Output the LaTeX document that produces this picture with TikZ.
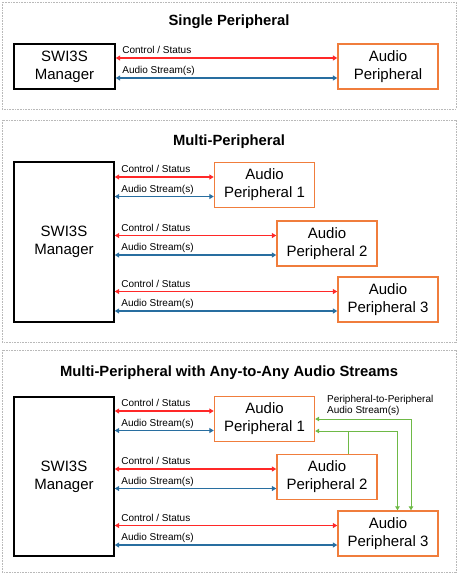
\documentclass[tikz,border=0pt]{standalone}
\usepackage{fontspec}
\setmainfont{Liberation Sans}
\usetikzlibrary{arrows.meta,positioning,calc}

\definecolor{ctrlred}{RGB}{255,40,40}
\definecolor{streamblue}{RGB}{40,110,160}
\definecolor{periorange}{RGB}{240,125,60}
\definecolor{p2pgreen}{RGB}{110,185,70}

\tikzset{
  mgrbox/.style={draw=black, line width=1.4pt, minimum width=100pt, align=center, font=\fontsize{15}{18}\selectfont},
  peribox/.style={draw=periorange, line width=1.4pt, minimum width=100pt, minimum height=45pt, align=center, font=\fontsize{15}{18}\selectfont},
  ctrlline/.style={draw=ctrlred, line width=1.3pt, {Triangle[length=4.5pt,width=5pt]}-{Triangle[length=4.5pt,width=5pt]}},
  streamline/.style={draw=streamblue, line width=1.3pt, {Triangle[length=4.5pt,width=5pt]}-{Triangle[length=4.5pt,width=5pt]}},
  p2pline/.style={draw=p2pgreen, line width=0.9pt},
  linklabel/.style={font=\fontsize{10}{11}\selectfont, anchor=base west, inner sep=0pt, xshift=6pt, yshift=4.5pt},
  paneltitle/.style={font=\bfseries\fontsize{14.8}{17}\selectfont, anchor=base},
  panelframe/.style={draw=gray!55, line width=0.8pt, dash pattern=on 1pt off 0.6pt}
}

\begin{document}
\begin{tikzpicture}[x=1pt, y=-1pt]
    \useasboundingbox (0,0) rectangle (458,573);

    % Single peripheral
    \draw[panelframe] (2,2) rectangle (456,109);
    \node[paneltitle] (atitle) at (229,25) {Single Peripheral};
    \node[mgrbox, minimum width=101pt, minimum height=45pt] (am) at (64.5,66.5) {SWI3S\\Manager};
    \node[peribox] (ap) at (388,66.5) {Audio\\Peripheral};
    \coordinate (apc) at ([yshift=8.5pt]ap.west);
    \coordinate (aps) at ([yshift=-11.5pt]ap.west);
    \draw[ctrlline] (am.east |- apc) node[linklabel] (apcl) {Control / Status} -- (apc);
    \draw[streamline] (am.east |- aps) node[linklabel] (apsl) {Audio Stream(s)} -- (aps);

    % Multi-peripheral
    \draw[panelframe] (2,120) rectangle (456,342);
    \node[paneltitle] (btitle) at (229,145.5) {Multi-Peripheral};
    \node[mgrbox, minimum height=160pt] (bm) at (64,242) {SWI3S\\Manager};
    \node[peribox] (bp1) at (264.5,185) {Audio\\Peripheral 1};
    \node[peribox] (bp2) at (327,243.5) {Audio\\Peripheral 2};
    \node[peribox] (bp3) at (388,299.5) {Audio\\Peripheral 3};
    \foreach \p in {bp1,bp2,bp3} {
        \coordinate (\p c) at ([yshift=8pt]\p.west);
        \coordinate (\p s) at ([yshift=-11.5pt]\p.west);
        \draw[ctrlline] (bm.east |- \p c) node[linklabel] (\p cl) {Control / Status} -- (\p c);
        \draw[streamline] (bm.east |- \p s) node[linklabel] (\p sl) {Audio Stream(s)} -- (\p s);
    }

    % Multi-peripheral, any-to-any
    \draw[panelframe] (2,350) rectangle (456,572);
    \node[paneltitle] (ctitle) at (229,376.5) {Multi-Peripheral with Any-to-Any Audio Streams};
    \node[mgrbox, minimum height=159pt] (cm) at (64,476.5) {SWI3S\\Manager};
    \node[peribox] (cp1) at (264.5,419) {Audio\\Peripheral 1};
    \node[peribox] (cp2) at (327,477) {Audio\\Peripheral 2};
    \node[peribox] (cp3) at (388,533.5) {Audio\\Peripheral 3};
    \foreach \p in {cp1,cp2,cp3} {
        \coordinate (\p c) at ([yshift=8pt]\p.west);
        \coordinate (\p s) at ([yshift=-11.5pt]\p.west);
        \draw[ctrlline] (cm.east |- \p c) node[linklabel] (\p cl) {Control / Status} -- (\p c);
        \draw[streamline] (cm.east |- \p s) node[linklabel] (\p sl) {Audio Stream(s)} -- (\p s);
    }

    % Peripheral-to-peripheral streams
    \coordinate (gup) at ([xshift=23pt]cp3.north);
    \coordinate (glow) at ([yshift=-12pt]cp1.east);
    \coordinate (gdown) at ([xshift=9.5pt]cp3.north);
    \coordinate (gbr) at ([xshift=21pt]cp2.north);
    \draw[p2pline, {Triangle[length=4pt,width=4.5pt]}-{Triangle[length=4pt,width=4.5pt]}] (cp1.east) -| (gup);
    \draw[p2pline, {Triangle[length=4pt,width=4.5pt]}-{Triangle[length=4pt,width=4.5pt]}] (glow) -| (gdown);
    \draw[p2pline] (gbr) -- (gbr |- glow);
    \node[font=\fontsize{10}{11}\selectfont, align=left, anchor=north west, inner sep=0pt] (p2plabel) at (327,395.5) {Peripheral-to-Peripheral\\Audio Stream(s)};
\end{tikzpicture}
\end{document}
